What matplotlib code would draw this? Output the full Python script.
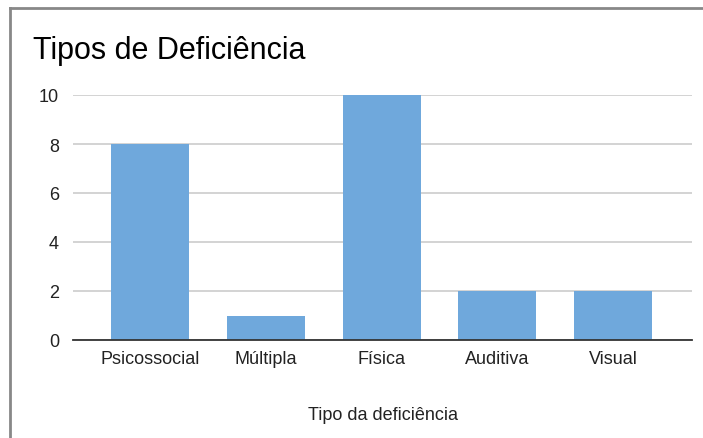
import matplotlib.pyplot as plt
from matplotlib.lines import Line2D

plt.rcParams['font.family'] = ['Liberation Sans', 'DejaVu Sans']

categorias = ['Psicossocial', 'Múltipla', 'Física', 'Auditiva', 'Visual']
valores = [8, 1, 10, 2, 2]
y_ticks = [0, 2, 4, 6, 8, 10]

W, H = 703, 439
fig = plt.figure(figsize=(W / 100, H / 100), dpi=100)
ax = fig.add_axes([73 / W, 98 / H, 619 / W, 245 / H])

x = list(range(len(categorias)))
ax.bar(x, valores, width=0.674, color='#6fa8dc', zorder=3)

ax.set_xlim(-0.665, 4.68)
ax.set_ylim(0, 10)
ax.set_yticks(y_ticks)
ax.set_xticks(x)
ax.set_xticklabels(categorias)
ax.tick_params(axis='both', length=0, labelsize=13, colors='#222222')
ax.tick_params(axis='y', pad=10)
ax.tick_params(axis='x', pad=7)
ax.grid(axis='y', color='#cccccc', linewidth=1.2, zorder=0)

for s in ['top', 'right', 'left']:
    ax.spines[s].set_visible(False)
ax.spines['bottom'].set_color('#333333')
ax.spines['bottom'].set_linewidth(1.3)
ax.spines['bottom'].set_zorder(4)

ax.set_xlabel('Tipo da deficiência', fontsize=13, labelpad=28, color='#222222')
fig.text(33 / W, 1 - 51 / H, 'Tipos de Deficiência', fontsize=22, color='black',
         ha='left', va='center')

# moldura cinza
fig.add_artist(Line2D([10 / W, 10 / W], [0, 1 - 9 / H], transform=fig.transFigure,
                      color='#888888', linewidth=2))
fig.add_artist(Line2D([10 / W, 1], [1 - 9 / H, 1 - 9 / H], transform=fig.transFigure,
                      color='#888888', linewidth=2))

plt.savefig('out.png', dpi=100)
